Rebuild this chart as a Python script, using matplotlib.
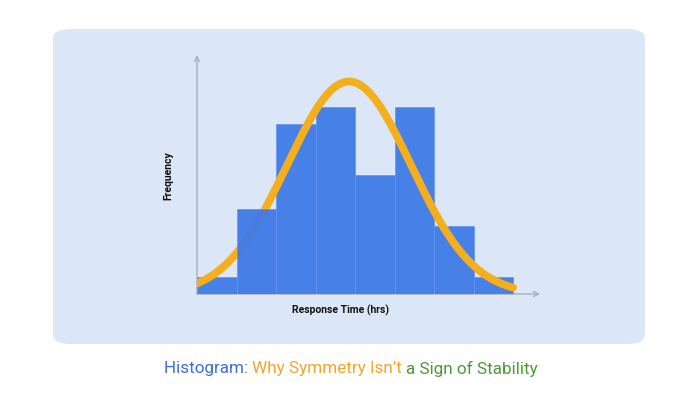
import numpy as np
import matplotlib
matplotlib.use('Agg')
import matplotlib.pyplot as plt
from matplotlib.patches import FancyBboxPatch

plt.rcParams['font.family'] = ['Roboto', 'DejaVu Sans']

# data
bins = [0, 1, 2, 3, 4, 5, 6, 7, 8]
counts = [1, 5, 10, 11, 7, 11, 4, 1]
# fitted normal curve (in bin units)
fit_mean = 3.85
fit_sd = 1.57
fit_peak = 12.5

title_parts = ['Histogram: ', 'Why Symmetry Isn\u2019t ', 'a Sign of Stability']
title_colors = ['#3d6fd6', '#f2a62c', '#4b9a35']

fig = plt.figure(figsize=(6.98, 4.0), dpi=100)
fig.patch.set_facecolor('white')

# rounded background panel
panel = FancyBboxPatch((53 / 698, 1 - 344 / 400), (645 - 53) / 698, (344 - 29) / 400,
                       boxstyle='round,pad=0,rounding_size=0.025',
                       transform=fig.transFigure, facecolor='#dbe6f7',
                       edgecolor='none', zorder=0)
fig.patches.append(panel)

ax = fig.add_axes([197 / 698, 1 - 294 / 400, (540 - 197) / 698, (294 - 55) / 400])
ax.set_zorder(2)
ax.patch.set_alpha(0)
ax.set_xlim(0, (540 - 197) / 39.5)
ax.set_ylim(0, (294 - 55) / 17)

bars = ax.bar(bins[:-1], counts, width=1, align='edge', color='#4781e8',
              edgecolor='#6393ee', linewidth=0.5, zorder=2)
# second bar sits over the curve in the original
bars[1].set_zorder(4)
bars[1].set_facecolor('#407ae6')
bars[1].set_alpha(0.95)

x = np.linspace(bins[0], bins[-1], 300)
y = fit_peak * np.exp(-(x - fit_mean) ** 2 / (2 * fit_sd ** 2))
ax.plot(x, y, color='#f5ae1c', linewidth=5.6, solid_capstyle='round', zorder=3)

for s in ax.spines.values():
    s.set_visible(False)
ax.set_xticks([])
ax.set_yticks([])

# axis arrows
arrow = dict(arrowstyle='->', color='#a9b0bf', lw=1, mutation_scale=9, shrinkA=0, shrinkB=0)
ax.annotate('', xy=(1, 0), xytext=(0, 0), xycoords='axes fraction', arrowprops=arrow, zorder=1)
ax.annotate('', xy=(0, 1), xytext=(0, 0), xycoords='axes fraction', arrowprops=arrow, zorder=1)

fig.text(168 / 698, 1 - 176 / 400, 'Frequency', rotation=90, ha='center', va='center',
         fontsize=7.5, fontweight='bold', color='#111111', zorder=3)
fig.text(341 / 698, 1 - 310 / 400, 'Response Time (hrs)', ha='center', va='center',
         fontsize=7.5, fontweight='bold', color='#111111', zorder=3)

# multicolour title
fig.canvas.draw()
r = fig.canvas.get_renderer()
texts = [fig.text(0, 1 - 369 / 400, p, color=c, fontsize=12.3, va='center', zorder=3)
         for p, c in zip(title_parts, title_colors)]
widths = [t.get_window_extent(r).width for t in texts]
x0 = 351 - sum(widths) / 2
for t, w in zip(texts, widths):
    t.set_x(x0 / 698)
    x0 += w

fig.savefig('out.png', dpi=100)
